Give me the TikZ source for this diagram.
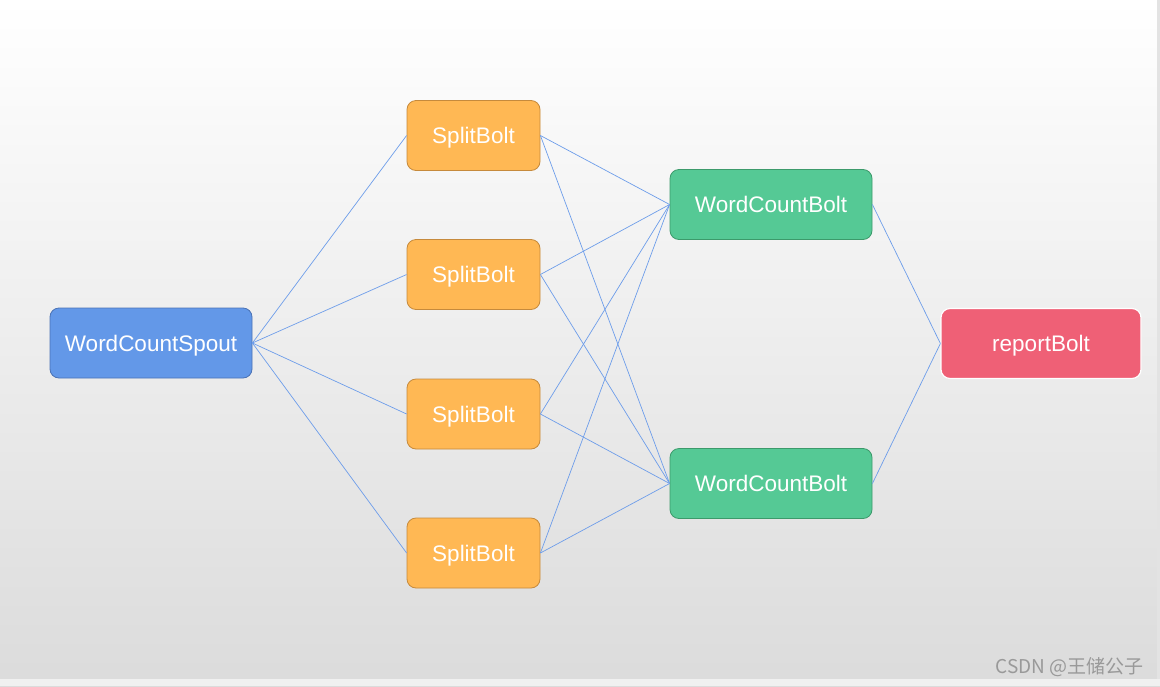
\documentclass[tikz,border=0pt]{standalone}
\usepackage{fontspec}
\setmainfont{Liberation Sans}
\newfontfamily\cjkfont{Noto Sans CJK SC}
\usetikzlibrary{positioning}
\definecolor{spoutblue}{HTML}{6398E8}
\definecolor{spoutline}{HTML}{4A72B5}
\definecolor{splitorange}{HTML}{FFB854}
\definecolor{splitline}{HTML}{C68A3C}
\definecolor{countgreen}{HTML}{55C995}
\definecolor{countline}{HTML}{3C9A6B}
\definecolor{reportred}{HTML}{EF6076}
\definecolor{linkblue}{HTML}{6D9DEA}
\tikzset{
  box/.style={rounded corners=9pt,minimum height=70pt,text depth=0pt,text=white,font=\fontsize{22.5}{27}\selectfont,line width=0.8pt},
  spoutbox/.style={box,fill=spoutblue,draw=spoutline,minimum width=202pt},
  splitbox/.style={box,fill=splitorange,draw=splitline,minimum width=133pt},
  countbox/.style={box,fill=countgreen,draw=countline,minimum width=202pt},
  reportbox/.style={box,fill=reportred,draw=white,line width=1.2pt,minimum width=200pt},
  link/.style={linkblue,line width=0.7pt}
}
\begin{document}
\begin{tikzpicture}[x=1pt,y=-1pt]
  % background
  \shade[top color=white,bottom color=black!14] (0,0) rectangle (1160,686);
  \fill[black!6] (0,679) rectangle (1160,686);
  \fill[black!11] (1157,0) rectangle (1160,679);
  \useasboundingbox (0,0) rectangle (1160,686);
  % nodes
  \node[spoutbox] (spout) at (151,343) {WordCountSpout};
  \node[splitbox] (s1) at (473.5,135.5) {SplitBolt};
  \node[splitbox] (s2) at (473.5,274.5) {SplitBolt};
  \node[splitbox] (s3) at (473.5,414) {SplitBolt};
  \node[splitbox] (s4) at (473.5,553) {SplitBolt};
  \node[countbox] (c1) at (771,204.5) {WordCountBolt};
  \node[countbox] (c2) at (771,483.5) {WordCountBolt};
  \node[reportbox] (report) at (1041,343.5) {reportBolt};
  % links
  \foreach \s in {s1,s2,s3,s4} {
    \draw[link] (spout.east) -- (\s.west);
    \draw[link] (\s.east) -- (c1.west);
    \draw[link] (\s.east) -- (c2.west);
  }
  \draw[link] (c1.east) -- (report.west);
  \draw[link] (c2.east) -- (report.west);
  % watermark
  \node[anchor=east,text=black!40,font=\cjkfont\fontsize{19}{22}\selectfont] (mark) at (1147,667) {CSDN @王储公子};
\end{tikzpicture}
\end{document}
